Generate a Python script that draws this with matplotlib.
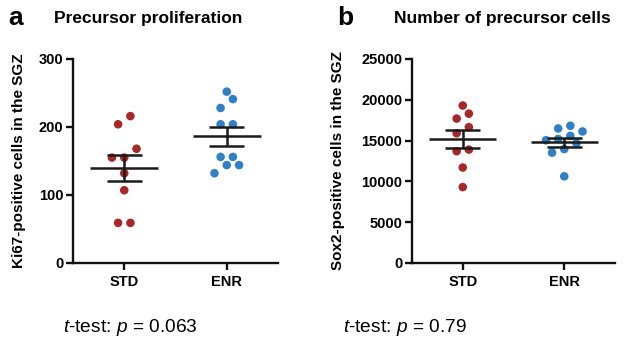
import numpy as np
import matplotlib
matplotlib.use("Agg")
import matplotlib.pyplot as plt

plt.rcParams['font.family'] = ['Liberation Sans', 'DejaVu Sans']
plt.rcParams['mathtext.fontset'] = 'custom'
plt.rcParams['mathtext.it'] = 'Liberation Sans:italic'
plt.rcParams['mathtext.rm'] = 'Liberation Sans'

groups = ["STD", "ENR"]
ki67_std = [216, 204, 168, 155, 155, 132, 107, 59, 59]
ki67_enr = [252, 241, 228, 204, 204, 156, 156, 144, 144, 132]
sox2_std = [19300, 18300, 17700, 16650, 15900, 13900, 13700, 11700, 9300]
sox2_enr = [16820, 16490, 16120, 15580, 15200, 15040, 14670, 13960, 13520, 10620]

red = "#a8282a"
blue = "#2f80c4"


def swarm(vals, px_per_unit, thresh=11, step=0.06):
    # group values into rows (ascending), center each row
    order = np.argsort(vals)
    offs = np.zeros(len(vals))
    rows = []
    for i in order:
        if rows and (vals[i] - vals[rows[-1][0]]) * px_per_unit < thresh:
            rows[-1].append(i)
        else:
            rows.append([i])
    for r in rows:
        n = len(r)
        for k, i in enumerate(r):
            offs[i] = (k - (n - 1) / 2) * 2 * step
    return offs


def panel(ax, data, ymax, yticks, ylabel, ylab_x):
    h_px = 204.0
    for xi, (vals, c) in enumerate(zip(data, [red, blue])):
        vals = np.array(vals, float)
        offs = swarm(vals, h_px / ymax)
        ax.scatter(xi + offs, vals, s=38, color=c, edgecolor='none', zorder=2)
        m = vals.mean()
        sem = vals.std(ddof=1) / np.sqrt(len(vals))
        kw = dict(color='#1a1a1a', lw=1.8, zorder=3, solid_capstyle='butt')
        ax.plot([xi - 0.33, xi + 0.33], [m, m], **kw)
        ax.plot([xi - 0.17, xi + 0.17], [m + sem, m + sem], **kw)
        ax.plot([xi - 0.17, xi + 0.17], [m - sem, m - sem], **kw)
        ax.plot([xi, xi], [m - sem, m + sem], **kw)
    ax.set_xlim(-0.5, 1.5)
    ax.set_ylim(0, ymax)
    ax.set_yticks(yticks)
    ax.set_xticks([0, 1])
    ax.set_xticklabels(groups)
    for s in ['top', 'right']:
        ax.spines[s].set_visible(False)
    for s in ['left', 'bottom']:
        ax.spines[s].set_linewidth(1.7)
        ax.spines[s].set_color('#111111')
    ax.tick_params(width=1.7, length=5, labelsize=10.5, color='#111111', pad=2)
    ax.tick_params(axis='x', pad=4)
    for lab in ax.get_xticklabels() + ax.get_yticklabels():
        lab.set_fontweight('bold')
    ax.set_ylabel(ylabel, fontsize=11, fontweight='bold')
    ax.yaxis.set_label_coords(ylab_x, 0.5)


fig = plt.figure(figsize=(6.39, 3.44), dpi=100)
ax1 = fig.add_axes([73 / 639, 1 - 263 / 344, 205 / 639, 204 / 344])
ax2 = fig.add_axes([412 / 639, 1 - 263 / 344, 203 / 639, 204 / 344])

panel(ax1, [ki67_std, ki67_enr], 300, [0, 100, 200, 300], "Ki67-positive cells in the SGZ",
      (26 - 73) / 205)
panel(ax2, [sox2_std, sox2_enr], 25000, [0, 5000, 10000, 15000, 20000, 25000],
      "Sox2-positive cells in the SGZ", (345 - 412) / 203)

fig.text(8 / 639, 1 - 18 / 344, "a", fontsize=19, fontweight='bold', va='center')
fig.text(148 / 639, 1 - 19 / 344, "Precursor proliferation", fontsize=12.5, fontweight='bold',
         ha='center', va='center')
fig.text(337 / 639, 1 - 18 / 344, "b", fontsize=19, fontweight='bold', va='center')
fig.text(502 / 639, 1 - 19 / 344, "Number of precursor cells", fontsize=12.5, fontweight='bold',
         ha='center', va='center')

fig.text(130 / 639, 1 - 327 / 344, r"$\it{t}$-test: $\it{p}$ = 0.063", fontsize=13.8,
         ha='center', va='center')
fig.text(405 / 639, 1 - 327 / 344, r"$\it{t}$-test: $\it{p}$ = 0.79", fontsize=13.8,
         ha='center', va='center')

fig.savefig("out.png", dpi=100)
